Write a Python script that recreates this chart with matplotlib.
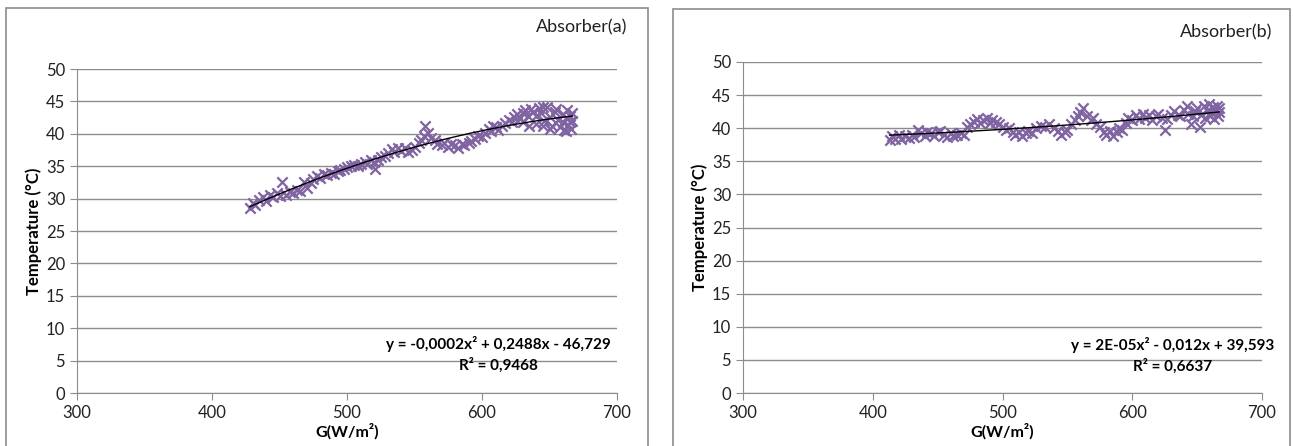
"""
Absorber temperature vs solar irradiance, two panels (a) and (b)
"""
import matplotlib.pyplot as plt
import matplotlib.patches as patches
import numpy as np

plt.rcParams['font.family'] = ['Lato', 'DejaVu Sans']

# ---------- data ----------
g_a = [428, 430, 432, 435, 438, 440, 443, 445, 448, 450, 452, 455, 458, 460, 463,
       465, 468, 470, 473, 475, 478, 480, 483, 485, 488, 490, 493, 495, 498, 500,
       503, 505, 508, 510, 513, 515, 518, 520, 521, 523, 525, 528, 530, 533, 535,
       538, 540, 543, 545, 548, 550, 553, 555, 557, 558, 560, 562, 565, 567, 570,
       572, 575, 577, 580, 582, 585, 587, 590, 592, 595, 597, 600, 602, 605, 607,
       608, 610, 612, 615, 617, 620, 622, 624, 626, 628, 630, 632, 634, 636, 638,
       640, 642, 644, 646, 648, 650, 652, 654, 656, 658, 660, 661, 662, 663, 664,
       665, 666, 667, 630, 635, 640, 645, 650, 655, 660, 665, 667, 662, 645]
t_a = [28.6, 29.3, 29.0, 29.8, 30.2, 29.6, 30.5, 30.2, 30.8, 30.4, 32.5, 30.6, 31.0, 30.8, 31.4,
       31.2, 32.6, 31.6, 32.4, 33.0, 33.5, 33.2, 33.8, 33.6, 34.0, 33.8, 34.2, 34.4, 34.6, 34.8,
       35.0, 35.2, 35.0, 35.4, 35.6, 35.4, 35.9, 35.6, 34.5, 36.0, 36.4, 36.6, 37.0, 37.6, 37.2,
       37.8, 37.4, 37.8, 37.2, 37.5, 38.0, 38.6, 39.0, 39.6, 41.2, 40.2, 39.4, 39.0, 38.4, 38.2,
       38.6, 38.0, 38.4, 38.2, 37.8, 38.5, 38.2, 38.6, 38.9, 39.2, 39.6, 39.5, 40.2, 40.8, 40.4,
       41.2, 41.0, 40.6, 41.2, 41.6, 42.2, 41.8, 42.6, 43.0, 42.4, 43.2, 43.6, 42.8, 43.8, 43.4,
       41.5, 44.0, 43.2, 42.0, 44.2, 42.6, 41.2, 43.4, 42.2, 41.0, 43.0, 40.6, 42.4, 43.6, 41.4,
       42.8, 40.8, 43.2, 41.8, 41.2, 42.8, 41.2, 40.8, 43.8, 41.8, 41.8, 42.0, 40.5, 44.2]

g_b = [413, 415, 417, 420, 422, 425, 428, 430, 432, 435, 437, 440, 442, 445, 447,
       450, 452, 455, 457, 460, 462, 465, 468, 470, 473, 475, 478, 480, 483, 485,
       488, 490, 492, 495, 497, 500, 503, 505, 508, 510, 513, 515, 518, 520, 523,
       526, 530, 533, 536, 540, 543, 545, 548, 550, 553, 556, 558, 560, 562, 565,
       568, 570, 572, 575, 578, 580, 583, 585, 588, 590, 592, 595, 597, 600, 603,
       605, 608, 610, 613, 615, 618, 620, 623, 625, 627, 630, 632, 635, 637, 640,
       642, 643, 645, 647, 648, 650, 652, 653, 655, 656, 658, 659, 660, 661, 662,
       663, 664, 665, 666, 667, 667]
t_b = [38.2, 38.8, 38.4, 39.0, 38.3, 38.8, 38.5, 39.0, 38.6, 39.8, 39.2, 38.8, 39.5, 39.2, 38.8,
       39.4, 39.6, 39.0, 38.6, 39.2, 38.8, 39.0, 39.3, 39.0, 40.2, 40.6, 41.0, 41.4, 40.8, 41.2,
       41.6, 40.8, 41.2, 41.0, 40.6, 40.2, 39.8, 40.0, 39.4, 39.0, 39.4, 38.8, 39.2, 39.6, 39.2,
       40.0, 40.4, 40.2, 40.6, 40.0, 39.6, 39.0, 39.4, 39.8, 40.6, 41.2, 41.8, 42.4, 43.0, 41.8,
       41.2, 41.6, 40.6, 40.2, 39.4, 39.0, 39.6, 38.8, 39.4, 40.0, 39.8, 40.8, 41.6, 41.2, 42.0,
       41.4, 42.2, 41.6, 42.0, 41.2, 41.8, 42.2, 41.6, 39.8, 41.4, 42.0, 42.6, 42.0, 41.8, 42.8,
       43.4, 42.2, 40.6, 41.8, 42.6, 43.0, 40.2, 42.0, 43.4, 41.6, 42.8, 43.6, 41.8, 42.4, 43.2,
       41.4, 42.6, 43.4, 41.8, 42.4, 43.0]

panels = [
    dict(g=g_a, t=t_a, name='Absorber(a)',
         eq='y = -0,0002x² + 0,2488x - 46,729\nR² = 0,9468',
         rect=[77/1293, 53/446, 540/1293, 324/446], eq_pos=(612, 6.0),
         box=(6, 8, 648), name_pos=(627, 27)),
    dict(g=g_b, t=t_b, name='Absorber(b)',
         eq='y = 2E-05x² - 0,012x + 39,593\nR² = 0,6637',
         rect=[743/1293, 53/446, 519/1293, 331/446], eq_pos=(631, 5.7),
         box=(673, 9, 1290), name_pos=(1272, 32)),
]

W, H = 1293, 446
fig = plt.figure(figsize=(W/100, H/100), dpi=100)

purple = '#8064A2'
grid_c = '#8c8c8c'

for p in panels:
    # panel frame
    x0, ytop, x1 = p['box']
    fig.add_artist(patches.Rectangle((x0/W, -0.05), (x1-x0)/W, 1.05-ytop/H,
                                     transform=fig.transFigure, fill=False,
                                     edgecolor='#8c8c8c', linewidth=1.2))
    fig.text(p['name_pos'][0]/W, 1-p['name_pos'][1]/H, p['name'],
             ha='right', va='center', fontsize=13, color='#222222')

    ax = fig.add_axes(p['rect'])
    ax.scatter(p['g'], p['t'], marker='x', s=55, color=purple, linewidths=1.6, zorder=3)

    # quadratic trend line
    coef = np.polyfit(p['g'], p['t'], 2)
    xs = np.linspace(min(p['g']), max(p['g']), 200)
    ax.plot(xs, np.polyval(coef, xs), color='black', linewidth=1.0, zorder=4)

    ax.set_xlim(300, 700)
    ax.set_ylim(0, 50)
    ax.set_xticks(range(300, 701, 100))
    ax.set_yticks(range(0, 51, 5))
    ax.yaxis.grid(True, color=grid_c, linewidth=1.0)
    ax.set_axisbelow(True)
    for s in ['top', 'right']:
        ax.spines[s].set_visible(False)
    for s in ['left', 'bottom']:
        ax.spines[s].set_color(grid_c)
    ax.tick_params(axis='both', colors=grid_c, labelcolor='#222222',
                   labelsize=12, length=5, direction='out')
    ax.tick_params(axis='x', pad=4)
    ax.set_xlabel('G(W/m²)', fontsize=11.5, fontweight='bold', labelpad=1)
    ax.set_ylabel('Temperature (°C)', fontsize=12, fontweight='bold', labelpad=3)

    ax.text(p['eq_pos'][0], p['eq_pos'][1], p['eq'], ha='center', va='center',
            multialignment='center', fontsize=11, fontweight='bold',
            linespacing=1.45, zorder=5)

plt.savefig('out.png', dpi=100)
